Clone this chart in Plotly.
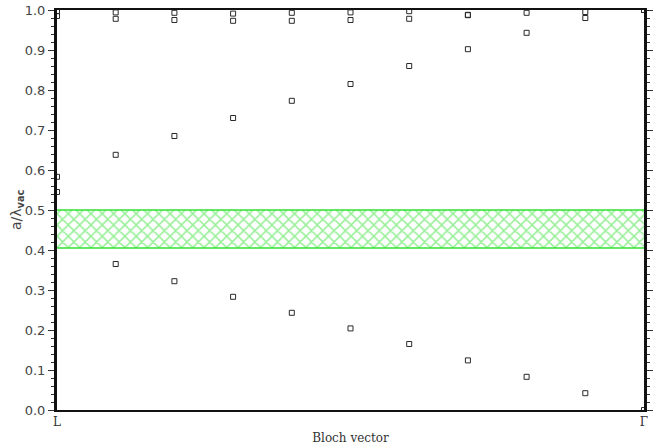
import plotly.graph_objects as go

# Bloch-vector path from L to Gamma, 11 sampled k-points
k_index = list(range(11))
k_tick_pos = [0, 10]
k_tick_text = ["L", "Γ"]

# normalised frequencies a/lambda_vac for the four lowest bands
band1 = [0.545, 0.365, 0.322, 0.283, 0.243, 0.204, 0.165, 0.124, 0.083, 0.042, 0.0]
band2 = [0.583, 0.638, 0.685, 0.730, 0.773, 0.815, 0.860, 0.902, 0.943, 0.980, 1.0]
band3 = [0.985, 0.978, 0.975, 0.973, 0.973, 0.975, 0.978, 0.987, 0.993, 0.995, 1.0]
band4 = [0.997, 0.994, 0.993, 0.991, 0.993, 0.994, 0.997, 0.988, None, None, None]

# shaded frequency window
gap_lo = 0.405
gap_hi = 0.5

green = "#33e033"
mark_col = "#2a2a2a"

fig = go.Figure()

fig.add_trace(go.Scatter(
    x=[k_index[0], k_index[-1]], y=[gap_lo, gap_lo], mode="lines",
    line=dict(color=green, width=1.5), showlegend=False, hoverinfo="skip"))
fig.add_trace(go.Scatter(
    x=[k_index[0], k_index[-1]], y=[gap_hi, gap_hi], mode="lines",
    line=dict(color=green, width=1.5), fill="tonexty", fillcolor="rgba(0,0,0,0)",
    fillpattern=dict(shape="x", fgcolor=green, bgcolor="white", size=8, solidity=0.35),
    showlegend=False, hoverinfo="skip"))

for band in (band1, band2, band3, band4):
    fig.add_trace(go.Scatter(
        x=k_index, y=band, mode="markers",
        marker=dict(symbol="square-open", size=5, color=mark_col,
                    line=dict(width=1, color=mark_col)),
        showlegend=False))

fig.update_layout(
    width=658, height=445,
    margin=dict(l=57, r=14, t=10, b=35, autoexpand=False),
    paper_bgcolor="white", plot_bgcolor="white",
    xaxis=dict(
        range=[0, 10], tickvals=k_tick_pos, ticktext=k_tick_text,
        showgrid=False, zeroline=False, showline=True, linecolor="#111",
        linewidth=2, mirror=True, ticks="", ticklen=0, automargin=False,
        tickfont=dict(family="DejaVu Serif", size=12, color="#333"),
        title=dict(text="Bloch vector", standoff=6,
                   font=dict(family="DejaVu Serif", size=12, color="#333")),
    ),
    yaxis=dict(
        range=[0, 1], tickvals=[i / 10 for i in range(11)],
        ticktext=[f"{i / 10:.1f}" for i in range(11)],
        showgrid=False, zeroline=False, showline=True, linecolor="#111",
        linewidth=3, mirror="allticks", ticks="outside", ticklen=6,
        tickcolor="#333", tickwidth=1, automargin=False,
        minor=dict(dtick=0.02, ticks="outside", ticklen=3, tickcolor="#333"),
        tickfont=dict(family="DejaVu Sans", size=13, color="#444"),
    ),
    annotations=[dict(
        text="a/λ<sub><b>vac</b></sub>", xref="paper", yref="paper",
        x=0, y=0.5, xanchor="center", yanchor="middle", xshift=-40,
        textangle=-90, showarrow=False,
        font=dict(family="DejaVu Sans", size=14, color="#444"),
    )],
)

fig.write_html("out.html")
